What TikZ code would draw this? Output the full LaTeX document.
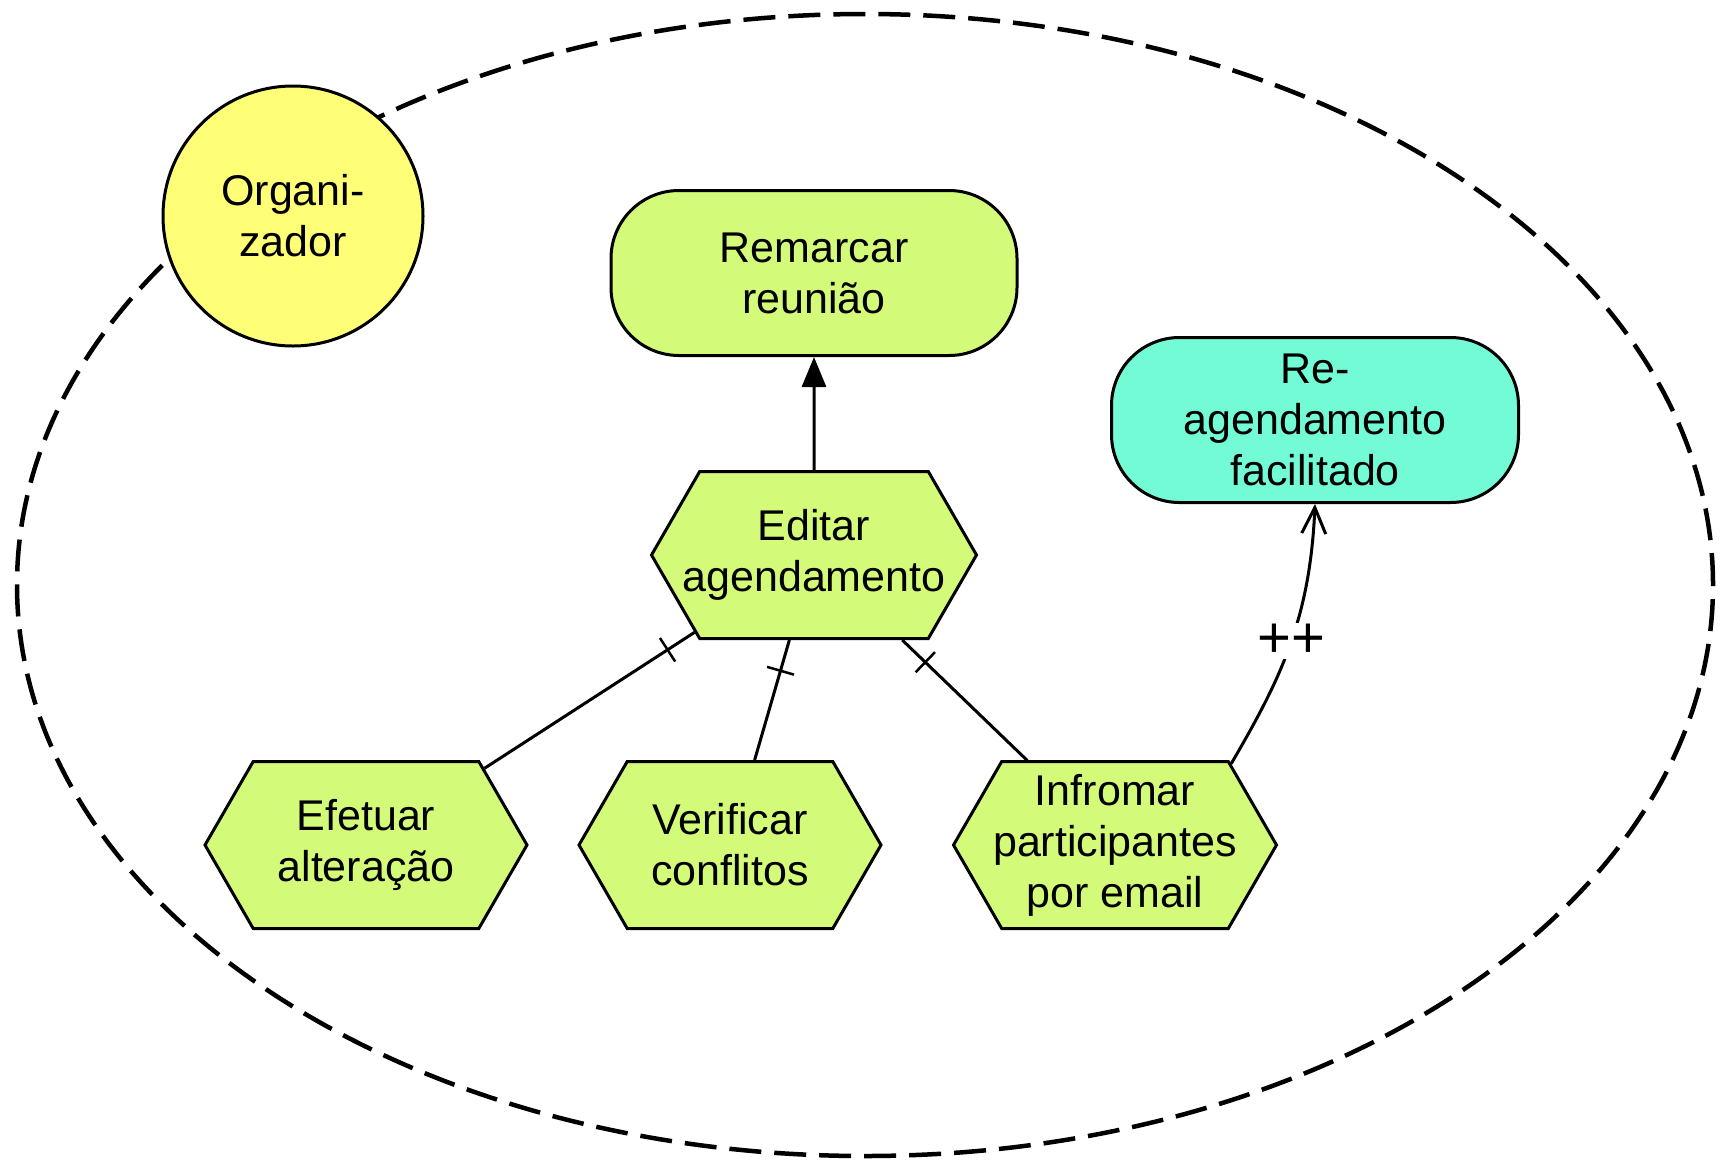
\documentclass[tikz,border=0pt]{standalone}
\usepackage{fontspec}
\setmainfont{Liberation Sans}
\usetikzlibrary{shapes.symbols,arrows.meta,decorations.markings}
\definecolor{taskgreen}{RGB}{212,250,121}
\definecolor{softgoal}{RGB}{115,251,214}
\definecolor{actoryellow}{RGB}{255,255,119}

% a line that may be wider than its hexagon
\newcommand{\wideline}[1]{\makebox[0pt]{#1}}

\begin{document}
\begin{tikzpicture}[x=1pt,y=-1pt,
  every node/.style={font=\fontsize{43}{51}\selectfont, align=center, line width=3pt},
  taskbox/.style={shape=signal, signal to=west and east, signal pointer angle=120,
    draw, fill=taskgreen, minimum height=167pt, inner sep=0pt},
  goalbox/.style={draw, rounded corners=68pt, minimum width=406pt,
    minimum height=165pt, inner sep=0pt},
  actor/.style={circle, draw, fill=actoryellow, minimum size=260pt, inner sep=0pt},
  boundary/.style={line width=4.5pt, dash pattern=on 32pt off 13pt},
  link/.style={line width=3pt},
  decomp/.style={link, postaction={decorate},
    decoration={markings, mark=at position 32pt with {\draw[line width=2.5pt] (0,-14pt) -- (0,14pt);}}},
]
\useasboundingbox (0,0) rectangle (1723,1160);

% actor boundary
\draw[boundary] (865,585) ellipse [x radius=848pt, y radius=571pt];

% actor
\node[actor] (org) at (293,216) {Organi-\\zador};

% goals
\node[goalbox, fill=taskgreen] (rem) at (814,273) {Remarcar\\reunião};
\node[goalbox, fill=softgoal, minimum width=407pt] (reag) at (1315,420) {Re-\\agendamento\\facilitado};

% tasks
\node[taskbox, minimum width=325pt] (edit) at (814,555) {Editar\\\wideline{agendamento}};
\node[taskbox, minimum width=322pt] (efet) at (366,845) {Efetuar\\alteração};
\node[taskbox, minimum width=302pt] (verif) at (730,845) {Verificar\\conflitos};
\node[taskbox, minimum width=323pt] (inf) at (1115,845) {Infromar\\\wideline{participantes}\\por email};

% means-end link
\draw[link, -{Triangle[length=30pt,width=24pt]}] (edit) -- (rem);

% decomposition links
\draw[decomp] (edit) -- (efet);
\draw[decomp] (edit) -- (verif);
\draw[decomp] (edit) -- (inf);

% contribution link
\draw[link, -{Straight Barb[length=26pt,width=24pt]}] (inf.35.6)
  .. controls (1280,680) and (1310,620) ..
  node[pos=0.52, fill=white, inner sep=1pt, font=\fontsize{58}{60}\selectfont] (plus) {++}
  (reag.south);
\end{tikzpicture}
\end{document}
